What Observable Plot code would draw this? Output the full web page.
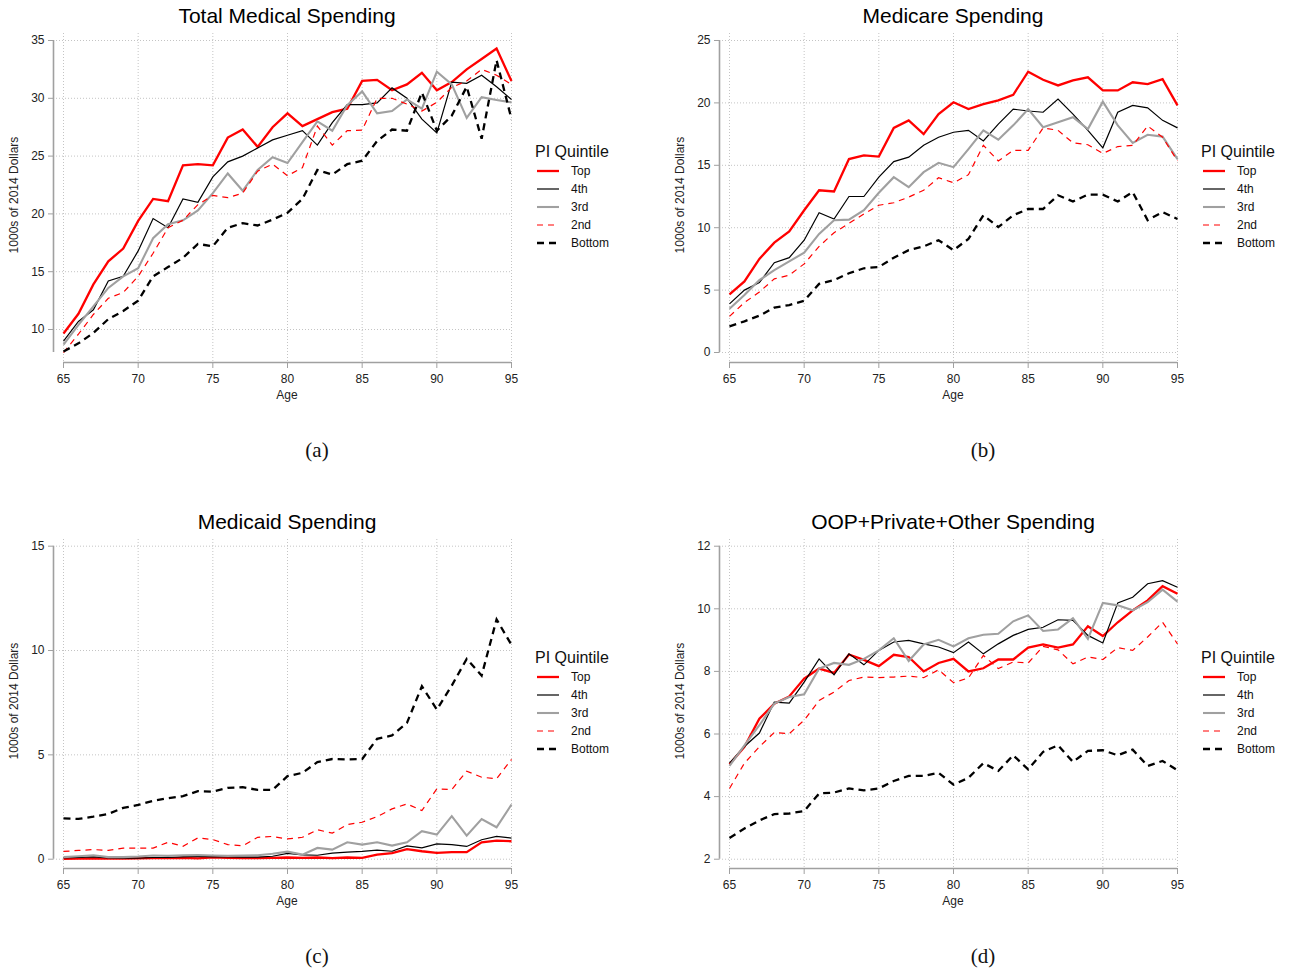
<!DOCTYPE html>
<html>
<head>
<meta charset="utf-8">
<script src="https://cdn.jsdelivr.net/npm/d3@7"></script>
<script src="https://cdn.jsdelivr.net/npm/@observablehq/plot@0.6"></script>
<style>
  html, body { margin: 0; padding: 0; background: #fff; }
  #root { position: relative; width: 1289px; height: 972px; overflow: hidden; font-family: "Liberation Sans", Arial, sans-serif; color: #111; }
  .abs { position: absolute; white-space: nowrap; }
  .ctr { transform: translate(-50%, -50%); }
  .title { font-size: 21px; color: #000; }
  .axlab { font-size: 12px; color: #222; }
  .sub { font-family: "Liberation Serif", "DejaVu Serif", serif; font-size: 21px; color: #111; }
  .legtitle { font-size: 16px; color: #111; transform: translateY(-50%); }
  .legrow { display: flex; align-items: center; transform: translateY(-50%); font-size: 12px; color: #111; }
  .legrow svg { margin-right: 12px; }
</style>
</head>
<body>
<div id="root"></div>
<script>
// ---------- data ----------
const ages = [65,66,67,68,69,70,71,72,73,74,75,76,77,78,79,80,81,82,83,84,85,86,87,88,89,90,91,92,93,94,95];
const quintiles = ["Top","4th","3rd","2nd","Bottom"];
const xTicks = [65,70,75,80,85,90,95];

// Total Medical Spending (1000s of 2014 dollars)
const totalTop    = [9.65,11.36,13.9,15.9,17.0,19.4,21.3,21.1,24.2,24.3,24.2,26.6,27.3,25.8,27.5,28.7,27.6,28.2,28.8,29.1,31.5,31.6,30.7,31.2,32.2,30.7,31.4,32.5,33.4,34.3,31.5];
const total4th    = [9.0,10.7,11.7,14.2,14.6,16.8,19.6,18.8,21.3,21.0,23.2,24.5,25.0,25.7,26.4,26.8,27.2,25.95,27.9,29.45,29.45,29.6,30.9,30.0,28.2,27.0,31.4,31.3,32.0,31.0,29.9];
const total3rd    = [8.7,10.4,12.0,13.6,14.6,15.3,17.9,19.1,19.45,20.3,21.8,23.5,22.0,23.8,24.9,24.4,26.2,28.0,27.2,29.4,30.6,28.7,28.9,29.9,29.1,32.3,31.2,28.3,30.1,29.85,29.65];
const total2nd    = [8.0,9.6,11.3,12.7,13.2,14.6,16.6,18.8,19.45,20.8,21.6,21.4,21.8,23.7,24.3,23.3,24.0,27.6,25.95,27.2,27.25,30.0,30.0,29.5,28.9,29.65,30.95,31.5,32.5,32.0,31.2];
const totalBottom = [8.1,8.8,9.7,10.9,11.6,12.5,14.6,15.4,16.2,17.4,17.2,18.8,19.2,19.0,19.5,20.1,21.3,23.8,23.4,24.3,24.6,26.3,27.3,27.2,30.5,27.2,28.5,31.0,26.5,33.3,28.2];
const totalTicks  = [10,15,20,25,30,35];

// Medicare Spending
const medicareTop    = [4.65,5.7,7.5,8.8,9.7,11.4,13.0,12.9,15.5,15.8,15.7,18.0,18.6,17.5,19.1,20.05,19.5,19.9,20.2,20.65,22.5,21.85,21.4,21.8,22.05,21.0,21.0,21.65,21.5,21.9,19.8];
const medicare4th    = [3.9,5.0,5.6,7.2,7.6,9.0,11.2,10.7,12.5,12.5,14.05,15.3,15.65,16.6,17.25,17.65,17.8,16.95,18.3,19.5,19.35,19.25,20.3,19.1,17.8,16.4,19.25,19.8,19.6,18.6,18.0];
const medicare3rd    = [3.5,4.6,5.8,6.6,7.3,8.0,9.5,10.6,10.65,11.4,12.8,14.05,13.25,14.45,15.2,14.85,16.3,17.8,17.05,18.2,19.5,18.05,18.45,18.85,17.9,20.1,18.2,16.8,17.45,17.3,15.5];
const medicare2nd    = [2.9,4.0,4.85,5.9,6.2,7.1,8.5,9.6,10.35,11.1,11.8,12.0,12.45,13.0,14.0,13.6,14.25,16.6,15.35,16.2,16.2,18.0,17.8,16.8,16.65,15.95,16.5,16.6,18.15,17.25,15.35];
const medicareBottom = [2.1,2.5,2.95,3.6,3.8,4.15,5.5,5.8,6.35,6.75,6.85,7.6,8.2,8.5,9.0,8.2,9.1,11.0,10.05,11.0,11.5,11.5,12.6,12.1,12.65,12.65,12.1,12.85,10.6,11.25,10.7];
const medicareTicks  = [0,5,10,15,20,25];

// Medicaid Spending
const medicaidTop    = [0.02,0.03,0.04,0.03,0.03,0.04,0.05,0.05,0.06,0.04,0.09,0.06,0.05,0.05,0.06,0.08,0.06,0.08,0.05,0.08,0.06,0.22,0.29,0.48,0.38,0.3,0.34,0.34,0.81,0.89,0.86];
const medicaid4th    = [0.06,0.08,0.11,0.06,0.05,0.05,0.08,0.08,0.11,0.13,0.11,0.11,0.1,0.1,0.14,0.28,0.21,0.19,0.29,0.34,0.37,0.43,0.38,0.64,0.54,0.73,0.70,0.61,0.93,1.09,1.01];
const medicaid3rd    = [0.1,0.14,0.19,0.1,0.1,0.13,0.18,0.16,0.19,0.2,0.18,0.16,0.18,0.19,0.26,0.36,0.22,0.54,0.46,0.81,0.70,0.81,0.65,0.81,1.34,1.18,2.06,1.13,1.92,1.53,2.62];
const medicaid2nd    = [0.37,0.42,0.46,0.42,0.53,0.53,0.53,0.81,0.62,1.02,0.94,0.70,0.64,1.05,1.09,0.97,1.05,1.41,1.25,1.66,1.77,2.04,2.41,2.65,2.33,3.37,3.34,4.22,3.93,3.85,4.78];
const medicaidBottom = [1.96,1.93,2.04,2.17,2.46,2.6,2.8,2.92,3.02,3.26,3.24,3.42,3.45,3.32,3.32,3.98,4.14,4.65,4.8,4.78,4.8,5.77,5.93,6.53,8.29,7.17,8.32,9.6,8.8,11.49,10.27];
const medicaidTicks  = [0,5,10,15];

// OOP + Private + Other Spending
const oopTop    = [5.03,5.59,6.49,6.97,7.2,7.77,8.09,7.95,8.54,8.37,8.17,8.53,8.46,8.0,8.27,8.4,8.0,8.1,8.38,8.38,8.76,8.86,8.76,8.86,9.44,9.13,9.57,9.95,10.27,10.72,10.48];
const oop4th    = [5.07,5.6,6.03,7.02,6.99,7.66,8.4,7.89,8.56,8.21,8.67,8.94,8.99,8.88,8.78,8.6,8.94,8.56,8.88,9.15,9.34,9.41,9.65,9.63,9.15,8.91,10.19,10.37,10.8,10.9,10.69];
const oop3rd    = [4.98,5.64,6.28,6.97,7.18,7.27,8.09,8.27,8.21,8.4,8.67,9.06,8.33,8.86,9.01,8.8,9.06,9.17,9.2,9.6,9.79,9.29,9.34,9.7,9.04,10.19,10.11,9.95,10.21,10.61,10.23];
const oop2nd    = [4.26,5.07,5.59,6.05,6.01,6.44,7.07,7.34,7.71,7.82,7.8,7.82,7.85,7.8,8.05,7.64,7.79,8.51,8.09,8.3,8.27,8.8,8.69,8.24,8.46,8.38,8.76,8.67,9.1,9.57,8.88];
const oopBottom = [2.68,2.98,3.24,3.44,3.46,3.54,4.1,4.13,4.26,4.2,4.26,4.5,4.66,4.66,4.76,4.38,4.6,5.07,4.82,5.32,4.87,5.43,5.64,5.11,5.46,5.48,5.32,5.5,4.98,5.14,4.84];
const oopTicks  = [2,4,6,8,10,12];

// ---------- styles ----------
const seriesStyle = {
  "Top":    {stroke: "#ff0000", strokeWidth: 2.3, dash: null},
  "4th":    {stroke: "#000000", strokeWidth: 1.2, dash: null},
  "3rd":    {stroke: "#a0a0a0", strokeWidth: 2.1, dash: null},
  "2nd":    {stroke: "#ff0000", strokeWidth: 1.2, dash: "6,5"},
  "Bottom": {stroke: "#000000", strokeWidth: 2.3, dash: "7,5"}
};

const panels = [
  {left: 0,   top: 0,   title: "Total Medical Spending", tag: "(a)", ticks: totalTicks, yDomain: [7.145, 35.606],
   series: [totalTop, total4th, total3rd, total2nd, totalBottom]},
  {left: 666, top: 0,   title: "Medicare Spending", tag: "(b)", ticks: medicareTicks, yDomain: [-0.80, 25.56],
   series: [medicareTop, medicare4th, medicare3rd, medicare2nd, medicareBottom]},
  {left: 0,   top: 506, title: "Medicaid Spending", tag: "(c)", ticks: medicaidTicks, yDomain: [-0.446, 15.32],
   series: [medicaidTop, medicaid4th, medicaid3rd, medicaid2nd, medicaidBottom]},
  {left: 666, top: 506, title: "OOP+Private+Other Spending", tag: "(d)", ticks: oopTicks, yDomain: [1.703, 12.214],
   series: [oopTop, oop4th, oop3rd, oop2nd, oopBottom]}
];

const root = document.getElementById("root");
const W = 530, H = 400, ML = 53, MR = 19, MT = 33, MB = 38;
const xDomain = [64.33, 95];

function addDiv(cls, text, x, y, extraStyle) {
  const d = document.createElement("div");
  d.className = "abs " + cls;
  d.textContent = text;
  d.style.left = x + "px";
  d.style.top = y + "px";
  if (extraStyle) Object.assign(d.style, extraStyle);
  root.appendChild(d);
  return d;
}

for (const p of panels) {
  const rows = [];
  quintiles.forEach((q, i) => {
    p.series[i].forEach((v, j) => rows.push({age: ages[j], value: v, q}));
  });
  const allVals = rows.map(r => r.value);
  const axisLo = Math.min(d3.min(allVals), d3.min(p.ticks));
  const axisHi = Math.max(d3.max(allVals), d3.max(p.ticks));

  const marks = [
    Plot.ruleY(p.ticks, {stroke: "#c4c4c4", strokeWidth: 1, strokeDasharray: "1,2"}),
    Plot.ruleX(xTicks, {stroke: "#c4c4c4", strokeWidth: 1, strokeDasharray: "1,2"}),
    Plot.ruleX([xDomain[0]], {y1: axisLo, y2: axisHi, stroke: "#a0a0a0", strokeWidth: 1.6}),
    Plot.ruleY([p.yDomain[0]], {x1: d3.min(ages), x2: d3.max(ages), stroke: "#a0a0a0", strokeWidth: 1.6}),
    Plot.axisY(p.ticks, {anchor: "left", tickSize: 5, tickPadding: 4, stroke: "#a0a0a0", fill: "#222", fontSize: 12, label: null}),
    Plot.axisX(xTicks, {anchor: "bottom", tickSize: 6, tickPadding: 6, stroke: "#a0a0a0", fill: "#222", fontSize: 12, label: null})
  ];
  for (const q of quintiles) {
    const s = seriesStyle[q];
    marks.push(Plot.line(rows.filter(r => r.q === q), {
      x: "age", y: "value", stroke: s.stroke, strokeWidth: s.strokeWidth,
      strokeDasharray: s.dash || undefined, strokeLinejoin: "miter", strokeLinecap: "butt", strokeMiterlimit: 4
    }));
  }

  const chart = Plot.plot({
    width: W, height: H,
    marginLeft: ML, marginRight: MR, marginTop: MT, marginBottom: MB,
    x: {domain: xDomain, axis: null},
    y: {domain: p.yDomain, axis: null},
    style: {fontFamily: "'Liberation Sans', Arial, sans-serif", fontSize: "12px", background: "transparent", overflow: "visible"},
    marks
  });
  chart.style.position = "absolute";
  chart.style.left = p.left + "px";
  chart.style.top = p.top + "px";
  root.appendChild(chart);

  // texts
  addDiv("title ctr", p.title, p.left + 287, p.top + 16);
  addDiv("axlab ctr", "Age", p.left + 287, p.top + 395);
  addDiv("axlab ctr", "1000s of 2014 Dollars", p.left + 14, p.top + 195, {transform: "translate(-50%, -50%) rotate(-90deg)"});
  addDiv("sub ctr", p.tag, p.left + 317, p.top + 450);

  // legend
  addDiv("legtitle", "PI Quintile", p.left + 535, p.top + 152);
  const rowY = [171, 189, 207, 225, 243];
  quintiles.forEach((q, i) => {
    const s = seriesStyle[q];
    const row = document.createElement("div");
    row.className = "abs legrow";
    row.style.left = (p.left + 537) + "px";
    row.style.top = (p.top + rowY[i]) + "px";
    const ns = "http://www.w3.org/2000/svg";
    const svg = document.createElementNS(ns, "svg");
    svg.setAttribute("width", "22");
    svg.setAttribute("height", "6");
    const ln = document.createElementNS(ns, "line");
    ln.setAttribute("x1", "0"); ln.setAttribute("x2", "22");
    ln.setAttribute("y1", "3"); ln.setAttribute("y2", "3");
    ln.setAttribute("stroke", s.stroke);
    ln.setAttribute("stroke-width", s.strokeWidth);
    if (s.dash) ln.setAttribute("stroke-dasharray", s.dash);
    svg.appendChild(ln);
    row.appendChild(svg);
    const t = document.createElement("span");
    t.textContent = q;
    row.appendChild(t);
    root.appendChild(row);
  });
}
</script>
</body>
</html>
